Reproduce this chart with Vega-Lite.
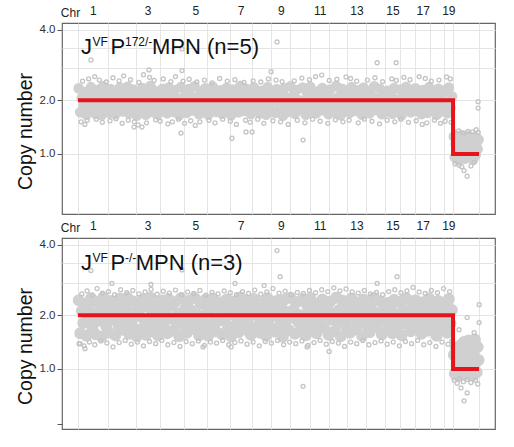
{
  "$schema": "https://vega.github.io/schema/vega-lite/v6.json",
  "padding": {"left": 14, "top": 3, "right": 18, "bottom": 17},
  "config": {
    "view": {"stroke": "#666666", "strokeWidth": 1.2},
    "font": "Liberation Sans",
    "axis": {"gridColor": "#e4e4e4", "gridWidth": 1}
  },
  "datasets": {
    "core1": [
      {"pos":5,"cn":2.28},{"pos":15,"cn":1.74},{"pos":25,"cn":2.05},{"pos":35,"cn":1.86},{"pos":45,"cn":2.19},{"pos":55,"cn":1.69},{"pos":65,"cn":2.12},{"pos":75,"cn":1.93},{"pos":85,"cn":2.31},{"pos":95,"cn":1.79},
      {"pos":105,"cn":2.02},{"pos":115,"cn":1.71},{"pos":125,"cn":2.24},{"pos":135,"cn":1.88},{"pos":145,"cn":2.09},{"pos":155,"cn":1.68},{"pos":165,"cn":2.33},{"pos":175,"cn":1.97},{"pos":185,"cn":1.81},{"pos":195,"cn":2.16},
      {"pos":205,"cn":1.73},{"pos":215,"cn":2.26},{"pos":225,"cn":1.91},{"pos":235,"cn":2.07},{"pos":245,"cn":1.70},{"pos":255,"cn":2.21},{"pos":265,"cn":1.84},{"pos":275,"cn":2.30},{"pos":285,"cn":1.99},{"pos":295,"cn":1.76},
      {"pos":305,"cn":2.14},{"pos":315,"cn":1.89},{"pos":325,"cn":2.32},{"pos":335,"cn":1.72},{"pos":345,"cn":2.03},{"pos":355,"cn":1.83},{"pos":365,"cn":2.25},{"pos":375,"cn":1.95},{"pos":385,"cn":1.67},{"pos":395,"cn":2.18},
      {"pos":405,"cn":2.08},{"pos":415,"cn":1.77},{"pos":425,"cn":2.29},{"pos":435,"cn":1.90},{"pos":445,"cn":1.69},{"pos":455,"cn":2.15},{"pos":465,"cn":1.85},{"pos":475,"cn":2.34},{"pos":485,"cn":2.01},{"pos":495,"cn":1.74},
      {"pos":505,"cn":2.22},{"pos":515,"cn":1.87},{"pos":525,"cn":1.70},{"pos":535,"cn":2.11},{"pos":545,"cn":1.96},{"pos":555,"cn":2.27},{"pos":565,"cn":1.80},{"pos":575,"cn":2.06},{"pos":585,"cn":1.72},{"pos":595,"cn":2.30},
      {"pos":605,"cn":1.92},{"pos":615,"cn":2.17},{"pos":625,"cn":1.75},{"pos":635,"cn":2.24},{"pos":645,"cn":1.88},{"pos":655,"cn":2.04},{"pos":665,"cn":1.68},{"pos":675,"cn":2.31},{"pos":685,"cn":1.98},{"pos":695,"cn":1.82},
      {"pos":705,"cn":2.13},{"pos":715,"cn":1.73},{"pos":725,"cn":2.26},{"pos":735,"cn":1.94},{"pos":745,"cn":2.09},{"pos":755,"cn":1.78},{"pos":765,"cn":2.33},{"pos":775,"cn":1.86},{"pos":785,"cn":2.00},{"pos":795,"cn":1.70},
      {"pos":805,"cn":2.20},{"pos":815,"cn":1.90},{"pos":825,"cn":1.76},{"pos":835,"cn":2.28},{"pos":845,"cn":2.03},{"pos":855,"cn":1.69},{"pos":865,"cn":2.15},{"pos":875,"cn":1.84},{"pos":885,"cn":2.32},{"pos":895,"cn":1.97},
      {"pos":905,"cn":1.75},{"pos":915,"cn":2.10},{"pos":925,"cn":1.89},{"pos":935,"cn":2.23},{"pos":945,"cn":1.71},{"pos":955,"cn":2.06},{"pos":965,"cn":1.93},{"pos":975,"cn":2.29},{"pos":985,"cn":1.80},{"pos":995,"cn":2.14},
      {"pos":1005,"cn":1.68},{"pos":1015,"cn":2.25},{"pos":1025,"cn":1.99},{"pos":1035,"cn":1.83},{"pos":1045,"cn":2.18},{"pos":1055,"cn":1.74},{"pos":1065,"cn":2.34},{"pos":1075,"cn":1.91},{"pos":1085,"cn":2.07},{"pos":1095,"cn":1.77},
      {"pos":1105,"cn":2.27},{"pos":1115,"cn":1.87},{"pos":1125,"cn":2.12},{"pos":1135,"cn":1.70},{"pos":1145,"cn":2.01},{"pos":1155,"cn":2.30},{"pos":1165,"cn":1.79},{"pos":1175,"cn":2.16},{"pos":1185,"cn":1.95},{"pos":1195,"cn":1.72},
      {"pos":1205,"cn":2.22},{"pos":1215,"cn":1.85},{"pos":1225,"cn":2.08},{"pos":1235,"cn":1.69},{"pos":1245,"cn":2.31},{"pos":1255,"cn":1.92},{"pos":1265,"cn":1.78},{"pos":1275,"cn":2.19},{"pos":1285,"cn":2.04},{"pos":1295,"cn":1.73},
      {"pos":1305,"cn":2.26},{"pos":1315,"cn":1.96},{"pos":1325,"cn":1.82},{"pos":1335,"cn":2.13},{"pos":1345,"cn":1.67},{"pos":1355,"cn":2.28},{"pos":1365,"cn":1.89},{"pos":1375,"cn":2.05},{"pos":1385,"cn":1.75},{"pos":1395,"cn":2.33},
      {"pos":1405,"cn":1.94},{"pos":1415,"cn":2.11},{"pos":1425,"cn":1.71},{"pos":1435,"cn":2.24},{"pos":1445,"cn":1.86},{"pos":1455,"cn":2.00},{"pos":1465,"cn":1.80},{"pos":1475,"cn":2.30},{"pos":1485,"cn":1.97},{"pos":1495,"cn":1.69},
      {"pos":1505,"cn":2.17},{"pos":1515,"cn":1.88},{"pos":1525,"cn":2.32},{"pos":1535,"cn":1.76},{"pos":1545,"cn":2.09},{"pos":1555,"cn":1.93},{"pos":1565,"cn":1.72},{"pos":1575,"cn":2.21},{"pos":1585,"cn":1.84},{"pos":1595,"cn":2.06},
      {"pos":1605,"cn":2.29},{"pos":1615,"cn":1.78},{"pos":1625,"cn":1.98},{"pos":1635,"cn":2.14},{"pos":1645,"cn":1.70},{"pos":1655,"cn":2.25},{"pos":1665,"cn":1.90},{"pos":1675,"cn":2.03},{"pos":1685,"cn":1.74},{"pos":1695,"cn":2.34},
      {"pos":1705,"cn":1.87},{"pos":1715,"cn":2.10},{"pos":1725,"cn":1.68},{"pos":1735,"cn":2.27},{"pos":1745,"cn":1.95},{"pos":1755,"cn":1.81},{"pos":1765,"cn":2.18},{"pos":1775,"cn":2.02},{"pos":1785,"cn":1.73},{"pos":1795,"cn":2.31},
      {"pos":1805,"cn":1.91},{"pos":1815,"cn":2.15},{"pos":1825,"cn":1.77},{"pos":1835,"cn":2.23},{"pos":1845,"cn":1.85},{"pos":1855,"cn":2.07},{"pos":1865,"cn":1.69},{"pos":1875,"cn":2.30},{"pos":1885,"cn":1.99},{"pos":1895,"cn":1.83},
      {"pos":1905,"cn":2.20},{"pos":1915,"cn":1.72},{"pos":1925,"cn":2.12},{"pos":1935,"cn":1.94},{"pos":1945,"cn":2.33},{"pos":1955,"cn":1.79},{"pos":1965,"cn":2.04},{"pos":1975,"cn":1.88},{"pos":1985,"cn":2.26},{"pos":1995,"cn":1.70},
      {"pos":2005,"cn":2.08},{"pos":2015,"cn":1.97},{"pos":2025,"cn":1.75},{"pos":2035,"cn":2.22},{"pos":2045,"cn":1.86},{"pos":2055,"cn":2.14},{"pos":2065,"cn":1.71},{"pos":2075,"cn":2.29},{"pos":2085,"cn":1.92},{"pos":2095,"cn":2.01},
      {"pos":2105,"cn":1.80},{"pos":2115,"cn":2.25},{"pos":2125,"cn":1.68},{"pos":2135,"cn":2.10},{"pos":2145,"cn":1.96},{"pos":2155,"cn":2.32},{"pos":2165,"cn":1.83},{"pos":2175,"cn":2.05},{"pos":2185,"cn":1.74},{"pos":2195,"cn":2.19},
      {"pos":2205,"cn":1.90},{"pos":2215,"cn":2.28},{"pos":2225,"cn":1.77},{"pos":2235,"cn":2.13},{"pos":2245,"cn":1.99},{"pos":2255,"cn":1.70},{"pos":2265,"cn":2.24},{"pos":2275,"cn":1.87},{"pos":2285,"cn":2.07},{"pos":2295,"cn":1.73},
      {"pos":2305,"cn":2.31},{"pos":2315,"cn":1.93},{"pos":2325,"cn":2.16},{"pos":2335,"cn":1.81},{"pos":2345,"cn":2.02},{"pos":2355,"cn":1.69},{"pos":2365,"cn":2.27},{"pos":2375,"cn":1.89},{"pos":2385,"cn":2.11},{"pos":2395,"cn":1.76},
      {"pos":2405,"cn":2.23},{"pos":2415,"cn":1.95},{"pos":2425,"cn":1.72},{"pos":2435,"cn":2.30},{"pos":2445,"cn":1.84},{"pos":2455,"cn":2.09},
      {"pos":2468,"cn":1.28},{"pos":2474,"cn":0.95},{"pos":2480,"cn":1.15},{"pos":2486,"cn":1.02},{"pos":2492,"cn":1.24},{"pos":2498,"cn":0.91},{"pos":2504,"cn":1.19},{"pos":2510,"cn":1.06},{"pos":2516,"cn":1.30},{"pos":2522,"cn":0.98},
      {"pos":2528,"cn":1.12},{"pos":2534,"cn":1.26},{"pos":2540,"cn":0.93},{"pos":2546,"cn":1.09},{"pos":2552,"cn":1.21},{"pos":2558,"cn":1.00},{"pos":2564,"cn":1.29},{"pos":2570,"cn":0.96},{"pos":2576,"cn":1.16},{"pos":2582,"cn":1.04},
      {"pos":2588,"cn":1.25},{"pos":2594,"cn":0.92},{"pos":2600,"cn":1.13},{"pos":2606,"cn":1.27},{"pos":2612,"cn":0.99},{"pos":2618,"cn":1.18},{"pos":2624,"cn":1.07},{"pos":2630,"cn":1.23}
    ],
    "fringe1": [
      {"pos":30,"cn":2.46},{"pos":70,"cn":2.52},{"pos":110,"cn":2.58},{"pos":140,"cn":2.49},{"pos":185,"cn":2.44},{"pos":230,"cn":2.55},{"pos":270,"cn":2.47},{"pos":300,"cn":2.60},{"pos":345,"cn":2.50},{"pos":400,"cn":2.43},
      {"pos":430,"cn":2.63},{"pos":470,"cn":2.56},{"pos":500,"cn":2.48},{"pos":560,"cn":2.52},{"pos":610,"cn":2.45},{"pos":640,"cn":2.58},{"pos":690,"cn":2.46},{"pos":730,"cn":2.51},{"pos":780,"cn":2.44},{"pos":830,"cn":2.49},
      {"pos":880,"cn":2.42},{"pos":930,"cn":2.53},{"pos":980,"cn":2.46},{"pos":1030,"cn":2.50},{"pos":1090,"cn":2.43},{"pos":1150,"cn":2.47},{"pos":1200,"cn":2.44},{"pos":1250,"cn":2.52},{"pos":1300,"cn":2.49},{"pos":1340,"cn":2.45},
      {"pos":1420,"cn":2.47},{"pos":1470,"cn":2.54},{"pos":1520,"cn":2.50},{"pos":1560,"cn":2.58},{"pos":1600,"cn":2.62},{"pos":1650,"cn":2.48},{"pos":1700,"cn":2.51},{"pos":1760,"cn":2.57},{"pos":1790,"cn":2.53},{"pos":1830,"cn":2.46},
      {"pos":1900,"cn":2.49},{"pos":1950,"cn":2.55},{"pos":2000,"cn":2.45},{"pos":2060,"cn":2.52},{"pos":2090,"cn":2.48},{"pos":2140,"cn":2.56},{"pos":2180,"cn":2.50},{"pos":2240,"cn":2.58},{"pos":2280,"cn":2.53},{"pos":2320,"cn":2.46},
      {"pos":2370,"cn":2.49},{"pos":2420,"cn":2.57},{"pos":2445,"cn":2.52},
      {"pos":20,"cn":1.55},{"pos":45,"cn":1.50},{"pos":60,"cn":1.58},{"pos":120,"cn":1.60},{"pos":160,"cn":1.54},{"pos":210,"cn":1.57},{"pos":250,"cn":1.61},{"pos":290,"cn":1.52},{"pos":330,"cn":1.58},{"pos":370,"cn":1.55},
      {"pos":395,"cn":1.49},{"pos":420,"cn":1.45},{"pos":450,"cn":1.53},{"pos":510,"cn":1.59},{"pos":540,"cn":1.56},{"pos":590,"cn":1.51},{"pos":620,"cn":1.55},{"pos":660,"cn":1.60},{"pos":700,"cn":1.52},{"pos":740,"cn":1.57},
      {"pos":770,"cn":1.48},{"pos":800,"cn":1.55},{"pos":860,"cn":1.58},{"pos":900,"cn":1.53},{"pos":950,"cn":1.60},{"pos":1000,"cn":1.56},{"pos":1040,"cn":1.50},{"pos":1100,"cn":1.58},{"pos":1130,"cn":1.54},{"pos":1180,"cn":1.60},
      {"pos":1220,"cn":1.52},{"pos":1280,"cn":1.57},{"pos":1330,"cn":1.55},{"pos":1380,"cn":1.50},{"pos":1440,"cn":1.58},{"pos":1490,"cn":1.53},{"pos":1540,"cn":1.60},{"pos":1590,"cn":1.56},{"pos":1640,"cn":1.52},{"pos":1690,"cn":1.59},
      {"pos":1740,"cn":1.55},{"pos":1780,"cn":1.58},{"pos":1840,"cn":1.53},{"pos":1880,"cn":1.60},{"pos":1930,"cn":1.56},{"pos":1980,"cn":1.51},{"pos":2030,"cn":1.58},{"pos":2080,"cn":1.55},{"pos":2120,"cn":1.60},{"pos":2170,"cn":1.54},
      {"pos":2220,"cn":1.57},{"pos":2260,"cn":1.50},{"pos":2290,"cn":1.53},{"pos":2340,"cn":1.58},{"pos":2380,"cn":1.52},{"pos":2410,"cn":1.56},{"pos":2450,"cn":1.54},
      {"pos":85,"cn":3.04},{"pos":683,"cn":3.37},{"pos":466,"cn":2.76},{"pos":683,"cn":2.74},{"pos":1307,"cn":3.59},{"pos":1268,"cn":2.71},{"pos":1964,"cn":2.96},{"pos":2089,"cn":2.96},
      {"pos":676,"cn":1.34},{"pos":1011,"cn":1.25},{"pos":368,"cn":1.45},{"pos":1103,"cn":1.36},{"pos":1143,"cn":1.36},{"pos":1478,"cn":1.22},
      {"pos":2470,"cn":1.36},{"pos":2500,"cn":1.38},{"pos":2530,"cn":1.34},{"pos":2560,"cn":1.37},{"pos":2590,"cn":1.36},{"pos":2615,"cn":1.40},{"pos":2628,"cn":1.35},
      {"pos":2475,"cn":0.86},{"pos":2502,"cn":0.84},{"pos":2520,"cn":0.82},{"pos":2535,"cn":0.77},{"pos":2555,"cn":0.70},{"pos":2580,"cn":0.83},{"pos":2601,"cn":0.88},
      {"pos":2627,"cn":1.97},{"pos":2627,"cn":1.83}
    ],
    "core2": [
      {"pos":5,"cn":2.36},{"pos":15,"cn":1.62},{"pos":25,"cn":2.10},{"pos":35,"cn":1.83},{"pos":45,"cn":2.27},{"pos":55,"cn":1.57},{"pos":65,"cn":2.18},{"pos":75,"cn":1.95},{"pos":85,"cn":2.41},{"pos":95,"cn":1.72},
      {"pos":105,"cn":2.04},{"pos":115,"cn":1.60},{"pos":125,"cn":2.32},{"pos":135,"cn":1.88},{"pos":145,"cn":2.13},{"pos":155,"cn":1.55},{"pos":165,"cn":2.43},{"pos":175,"cn":1.99},{"pos":185,"cn":1.76},{"pos":195,"cn":2.22},
      {"pos":205,"cn":1.64},{"pos":215,"cn":2.34},{"pos":225,"cn":1.92},{"pos":235,"cn":2.09},{"pos":245,"cn":1.58},{"pos":255,"cn":2.29},{"pos":265,"cn":1.80},{"pos":275,"cn":2.40},{"pos":285,"cn":2.01},{"pos":295,"cn":1.69},
      {"pos":305,"cn":2.20},{"pos":315,"cn":1.86},{"pos":325,"cn":2.42},{"pos":335,"cn":1.61},{"pos":345,"cn":2.06},{"pos":355,"cn":1.78},{"pos":365,"cn":2.33},{"pos":375,"cn":1.97},{"pos":385,"cn":1.56},{"pos":395,"cn":2.25},
      {"pos":405,"cn":2.12},{"pos":415,"cn":1.70},{"pos":425,"cn":2.38},{"pos":435,"cn":1.90},{"pos":445,"cn":1.59},{"pos":455,"cn":2.21},{"pos":465,"cn":1.82},{"pos":475,"cn":2.43},{"pos":485,"cn":2.03},{"pos":495,"cn":1.65},
      {"pos":505,"cn":2.30},{"pos":515,"cn":1.85},{"pos":525,"cn":1.58},{"pos":535,"cn":2.15},{"pos":545,"cn":1.96},{"pos":555,"cn":2.35},{"pos":565,"cn":1.74},{"pos":575,"cn":2.08},{"pos":585,"cn":1.62},{"pos":595,"cn":2.39},
      {"pos":605,"cn":1.93},{"pos":615,"cn":2.24},{"pos":625,"cn":1.67},{"pos":635,"cn":2.31},{"pos":645,"cn":1.87},{"pos":655,"cn":2.05},{"pos":665,"cn":1.56},{"pos":675,"cn":2.41},{"pos":685,"cn":2.00},{"pos":695,"cn":1.77},
      {"pos":705,"cn":2.17},{"pos":715,"cn":1.63},{"pos":725,"cn":2.34},{"pos":735,"cn":1.94},{"pos":745,"cn":2.11},{"pos":755,"cn":1.71},{"pos":765,"cn":2.42},{"pos":775,"cn":1.84},{"pos":785,"cn":2.02},{"pos":795,"cn":1.58},
      {"pos":805,"cn":2.28},{"pos":815,"cn":1.89},{"pos":825,"cn":1.68},{"pos":835,"cn":2.37},{"pos":845,"cn":2.06},{"pos":855,"cn":1.57},{"pos":865,"cn":2.19},{"pos":875,"cn":1.81},{"pos":885,"cn":2.40},{"pos":895,"cn":1.98},
      {"pos":905,"cn":1.66},{"pos":915,"cn":2.14},{"pos":925,"cn":1.88},{"pos":935,"cn":2.30},{"pos":945,"cn":1.60},{"pos":955,"cn":2.08},{"pos":965,"cn":1.94},{"pos":975,"cn":2.38},{"pos":985,"cn":1.75},{"pos":995,"cn":2.20},
      {"pos":1005,"cn":1.56},{"pos":1015,"cn":2.33},{"pos":1025,"cn":2.01},{"pos":1035,"cn":1.79},{"pos":1045,"cn":2.24},{"pos":1055,"cn":1.64},{"pos":1065,"cn":2.43},{"pos":1075,"cn":1.91},{"pos":1085,"cn":2.10},{"pos":1095,"cn":1.70},
      {"pos":1105,"cn":2.36},{"pos":1115,"cn":1.86},{"pos":1125,"cn":2.16},{"pos":1135,"cn":1.59},{"pos":1145,"cn":2.03},{"pos":1155,"cn":2.39},{"pos":1165,"cn":1.73},{"pos":1175,"cn":2.21},{"pos":1185,"cn":1.96},{"pos":1195,"cn":1.63},
      {"pos":1205,"cn":2.29},{"pos":1215,"cn":1.83},{"pos":1225,"cn":2.11},{"pos":1235,"cn":1.57},{"pos":1245,"cn":2.41},{"pos":1255,"cn":1.92},{"pos":1265,"cn":1.72},{"pos":1275,"cn":2.26},{"pos":1285,"cn":2.05},{"pos":1295,"cn":1.65},
      {"pos":1305,"cn":2.34},{"pos":1315,"cn":1.97},{"pos":1325,"cn":1.78},{"pos":1335,"cn":2.18},{"pos":1345,"cn":1.55},{"pos":1355,"cn":2.37},{"pos":1365,"cn":1.88},{"pos":1375,"cn":2.07},{"pos":1385,"cn":1.68},{"pos":1395,"cn":2.42},
      {"pos":1405,"cn":1.95},{"pos":1415,"cn":2.13},{"pos":1425,"cn":1.61},{"pos":1435,"cn":2.31},{"pos":1445,"cn":1.85},{"pos":1455,"cn":2.01},{"pos":1465,"cn":1.74},{"pos":1475,"cn":2.39},{"pos":1485,"cn":1.99},{"pos":1495,"cn":1.58},
      {"pos":1505,"cn":2.23},{"pos":1515,"cn":1.87},{"pos":1525,"cn":2.41},{"pos":1535,"cn":1.69},{"pos":1545,"cn":2.10},{"pos":1555,"cn":1.93},{"pos":1565,"cn":1.62},{"pos":1575,"cn":2.28},{"pos":1585,"cn":1.81},{"pos":1595,"cn":2.06},
      {"pos":1605,"cn":2.38},{"pos":1615,"cn":1.73},{"pos":1625,"cn":1.99},{"pos":1635,"cn":2.19},{"pos":1645,"cn":1.59},{"pos":1655,"cn":2.32},{"pos":1665,"cn":1.90},{"pos":1675,"cn":2.04},{"pos":1685,"cn":1.66},{"pos":1695,"cn":2.43},
      {"pos":1705,"cn":1.86},{"pos":1715,"cn":2.12},{"pos":1725,"cn":1.56},{"pos":1735,"cn":2.35},{"pos":1745,"cn":1.96},{"pos":1755,"cn":1.77},{"pos":1765,"cn":2.25},{"pos":1775,"cn":2.02},{"pos":1785,"cn":1.63},{"pos":1795,"cn":2.40},
      {"pos":1805,"cn":1.91},{"pos":1815,"cn":2.20},{"pos":1825,"cn":1.70},{"pos":1835,"cn":2.30},{"pos":1845,"cn":1.83},{"pos":1855,"cn":2.09},{"pos":1865,"cn":1.57},{"pos":1875,"cn":2.38},{"pos":1885,"cn":2.00},{"pos":1895,"cn":1.79},
      {"pos":1905,"cn":2.27},{"pos":1915,"cn":1.64},{"pos":1925,"cn":2.15},{"pos":1935,"cn":1.94},{"pos":1945,"cn":2.42},{"pos":1955,"cn":1.75},{"pos":1965,"cn":2.05},{"pos":1975,"cn":1.87},{"pos":1985,"cn":2.33},{"pos":1995,"cn":1.60},
      {"pos":2005,"cn":2.11},{"pos":2015,"cn":1.98},{"pos":2025,"cn":1.68},{"pos":2035,"cn":2.29},{"pos":2045,"cn":1.84},{"pos":2055,"cn":2.18},{"pos":2065,"cn":1.62},{"pos":2075,"cn":2.37},{"pos":2085,"cn":1.92},{"pos":2095,"cn":2.02},
      {"pos":2105,"cn":1.76},{"pos":2115,"cn":2.32},{"pos":2125,"cn":1.58},{"pos":2135,"cn":2.13},{"pos":2145,"cn":1.97},{"pos":2155,"cn":2.41},{"pos":2165,"cn":1.80},{"pos":2175,"cn":2.07},{"pos":2185,"cn":1.66},{"pos":2195,"cn":2.24},
      {"pos":2205,"cn":1.90},{"pos":2215,"cn":2.36},{"pos":2225,"cn":1.71},{"pos":2235,"cn":2.17},{"pos":2245,"cn":2.00},{"pos":2255,"cn":1.61},{"pos":2265,"cn":2.31},{"pos":2275,"cn":1.86},{"pos":2285,"cn":2.09},{"pos":2295,"cn":1.67},
      {"pos":2305,"cn":2.40},{"pos":2315,"cn":1.94},{"pos":2325,"cn":2.21},{"pos":2335,"cn":1.78},{"pos":2345,"cn":2.03},{"pos":2355,"cn":1.57},{"pos":2365,"cn":2.34},{"pos":2375,"cn":1.88},{"pos":2385,"cn":2.14},{"pos":2395,"cn":1.72},
      {"pos":2405,"cn":2.30},{"pos":2415,"cn":1.96},{"pos":2425,"cn":1.63},{"pos":2435,"cn":2.39},{"pos":2445,"cn":1.82},{"pos":2455,"cn":2.12},
      {"pos":2468,"cn":1.22},{"pos":2474,"cn":0.93},{"pos":2480,"cn":1.35},{"pos":2486,"cn":1.05},{"pos":2492,"cn":1.15},{"pos":2498,"cn":0.90},{"pos":2504,"cn":1.28},{"pos":2510,"cn":1.00},{"pos":2516,"cn":1.40},{"pos":2522,"cn":0.96},
      {"pos":2528,"cn":1.18},{"pos":2534,"cn":1.45},{"pos":2540,"cn":1.08},{"pos":2546,"cn":0.92},{"pos":2552,"cn":1.31},{"pos":2558,"cn":1.12},{"pos":2564,"cn":1.48},{"pos":2570,"cn":0.97},{"pos":2576,"cn":1.25},{"pos":2582,"cn":1.03},
      {"pos":2588,"cn":1.42},{"pos":2594,"cn":0.91},{"pos":2600,"cn":1.20},{"pos":2606,"cn":1.50},{"pos":2612,"cn":1.10},{"pos":2618,"cn":0.95},{"pos":2624,"cn":1.36},{"pos":2630,"cn":1.14}
    ],
    "fringe2": [
      {"pos":25,"cn":2.52},{"pos":60,"cn":2.60},{"pos":95,"cn":2.49},{"pos":125,"cn":2.66},{"pos":160,"cn":2.54},{"pos":200,"cn":2.58},{"pos":240,"cn":2.50},{"pos":280,"cn":2.63},{"pos":320,"cn":2.55},{"pos":360,"cn":2.61},
      {"pos":400,"cn":2.52},{"pos":440,"cn":2.57},{"pos":480,"cn":2.64},{"pos":520,"cn":2.51},{"pos":560,"cn":2.59},{"pos":600,"cn":2.54},{"pos":640,"cn":2.62},{"pos":680,"cn":2.50},{"pos":720,"cn":2.57},{"pos":760,"cn":2.53},
      {"pos":800,"cn":2.61},{"pos":840,"cn":2.49},{"pos":880,"cn":2.56},{"pos":920,"cn":2.52},{"pos":960,"cn":2.60},{"pos":1000,"cn":2.55},{"pos":1040,"cn":2.50},{"pos":1080,"cn":2.58},{"pos":1120,"cn":2.53},{"pos":1160,"cn":2.62},
      {"pos":1200,"cn":2.51},{"pos":1240,"cn":2.57},{"pos":1280,"cn":2.66},{"pos":1320,"cn":2.54},{"pos":1360,"cn":2.59},{"pos":1400,"cn":2.50},{"pos":1440,"cn":2.56},{"pos":1480,"cn":2.53},{"pos":1520,"cn":2.61},{"pos":1560,"cn":2.55},
      {"pos":1600,"cn":2.63},{"pos":1640,"cn":2.58},{"pos":1680,"cn":2.68},{"pos":1720,"cn":2.60},{"pos":1760,"cn":2.65},{"pos":1800,"cn":2.57},{"pos":1840,"cn":2.54},{"pos":1880,"cn":2.61},{"pos":1920,"cn":2.52},{"pos":1960,"cn":2.56},
      {"pos":2000,"cn":2.50},{"pos":2040,"cn":2.58},{"pos":2080,"cn":2.63},{"pos":2120,"cn":2.55},{"pos":2160,"cn":2.60},{"pos":2200,"cn":2.69},{"pos":2240,"cn":2.57},{"pos":2280,"cn":2.53},{"pos":2320,"cn":2.61},{"pos":2360,"cn":2.55},
      {"pos":2400,"cn":2.66},{"pos":2440,"cn":2.58},
      {"pos":15,"cn":1.42},{"pos":40,"cn":1.38},{"pos":75,"cn":1.45},{"pos":110,"cn":1.40},{"pos":150,"cn":1.47},{"pos":190,"cn":1.43},{"pos":230,"cn":1.36},{"pos":270,"cn":1.44},{"pos":310,"cn":1.48},{"pos":350,"cn":1.41},
      {"pos":390,"cn":1.45},{"pos":430,"cn":1.38},{"pos":470,"cn":1.46},{"pos":510,"cn":1.42},{"pos":550,"cn":1.48},{"pos":590,"cn":1.40},{"pos":630,"cn":1.44},{"pos":670,"cn":1.37},{"pos":710,"cn":1.46},{"pos":750,"cn":1.42},
      {"pos":790,"cn":1.47},{"pos":830,"cn":1.39},{"pos":870,"cn":1.45},{"pos":910,"cn":1.43},{"pos":950,"cn":1.48},{"pos":990,"cn":1.40},{"pos":1030,"cn":1.44},{"pos":1070,"cn":1.47},{"pos":1110,"cn":1.41},{"pos":1150,"cn":1.45},
      {"pos":1190,"cn":1.38},{"pos":1230,"cn":1.46},{"pos":1270,"cn":1.43},{"pos":1310,"cn":1.48},{"pos":1350,"cn":1.40},{"pos":1390,"cn":1.45},{"pos":1430,"cn":1.42},{"pos":1470,"cn":1.47},{"pos":1510,"cn":1.39},{"pos":1550,"cn":1.44},
      {"pos":1590,"cn":1.48},{"pos":1630,"cn":1.41},{"pos":1670,"cn":1.46},{"pos":1710,"cn":1.43},{"pos":1750,"cn":1.37},{"pos":1790,"cn":1.45},{"pos":1830,"cn":1.42},{"pos":1870,"cn":1.48},{"pos":1910,"cn":1.40},{"pos":1950,"cn":1.44},
      {"pos":1990,"cn":1.47},{"pos":2030,"cn":1.41},{"pos":2070,"cn":1.45},{"pos":2110,"cn":1.38},{"pos":2150,"cn":1.46},{"pos":2190,"cn":1.42},{"pos":2230,"cn":1.48},{"pos":2270,"cn":1.40},{"pos":2310,"cn":1.44},{"pos":2350,"cn":1.37},
      {"pos":2390,"cn":1.45},{"pos":2430,"cn":1.41},{"pos":2455,"cn":1.47},
      {"pos":85,"cn":3.17},{"pos":683,"cn":3.19},{"pos":223,"cn":2.80},{"pos":479,"cn":2.77},{"pos":1031,"cn":2.80},{"pos":1307,"cn":3.80},{"pos":1327,"cn":2.99},{"pos":2095,"cn":2.99},{"pos":1964,"cn":2.80},{"pos":1222,"cn":2.74},
      {"pos":7,"cn":1.42},{"pos":46,"cn":1.33},{"pos":1478,"cn":0.76},{"pos":1649,"cn":1.28},{"pos":1504,"cn":1.36},{"pos":821,"cn":1.36},{"pos":1005,"cn":1.36},
      {"pos":2470,"cn":0.84},{"pos":2490,"cn":0.80},{"pos":2505,"cn":0.86},{"pos":2530,"cn":0.82},{"pos":2555,"cn":0.85},{"pos":2580,"cn":0.81},{"pos":2610,"cn":0.84},{"pos":2625,"cn":0.79},
      {"pos":2515,"cn":0.74},{"pos":2555,"cn":0.68},{"pos":2535,"cn":0.59},
      {"pos":2555,"cn":1.95},{"pos":2601,"cn":1.63},{"pos":2502,"cn":1.69},{"pos":2634,"cn":2.25},{"pos":2634,"cn":1.84}
    ],
    "cnseg": [
      {"pos":0,"cn":2,"step":1},{"pos":2462.5,"cn":2,"step":2},{"pos":2462.5,"cn":1,"step":3},{"pos":2633.5,"cn":1,"step":4}
    ],
    "big1": [{"pos":19.7,"cn":3.22,"txt":"J"},{"pos":213.5,"cn":3.22,"txt":"P"},{"pos":486,"cn":3.22,"txt":"MPN (n=5)"}],
    "sup1": [{"pos":96,"cn":3.46,"txt":"VF"},{"pos":308.7,"cn":3.46,"txt":"172/-"}],
    "big2": [{"pos":19.7,"cn":3.2,"txt":"J"},{"pos":213.5,"cn":3.2,"txt":"P"},{"pos":379,"cn":3.2,"txt":"MPN (n=3)"}],
    "sup2": [{"pos":96,"cn":3.44,"txt":"VF"},{"pos":308.7,"cn":3.44,"txt":"-/-"}]
  },
  "spacing": 3,
  "vconcat": [
    {
      "width": 433, "height": 191,
      "encoding": {
        "x": {"field": "pos", "type": "quantitative",
          "scale": {"domain": [-105, 2738], "nice": false, "zero": false},
          "axis": {"orient": "top",
            "values": [0,195.5,377.6,537.6,694.1,845.9,995.6,1141,1270.4,1395,1525.7,1647.8,1767.9,1888.3,2013.2,2117.2,2215.4,2310.4,2401.1,2462.5,2633.5,97.75,457.6,770,1068.3,1332.7,1586.75,1828.1,2065.2,2262.9,2431.8],
            "labelExpr": "indexof([97.75,457.6,770,1068.3,1332.7,1586.75,1828.1,2065.2,2262.9,2431.8], datum.value) >= 0 ? '' + (2 * indexof([97.75,457.6,770,1068.3,1332.7,1586.75,1828.1,2065.2,2262.9,2431.8], datum.value) + 1) : ''",
            "gridOpacity": {"condition": {"test": "indexof([97.75,457.6,770,1068.3,1332.7,1586.75,1828.1,2065.2,2262.9,2431.8], datum.value) >= 0", "value": 0}, "value": 1},
            "grid": true, "ticks": false, "tickSize": 0, "domain": false,
            "labelFontSize": 12, "labelColor": "#222222", "labelPadding": 6,
            "labelOverlap": false, "labelBound": false, "labelFlush": false,
            "title": "Chr", "titleAngle": 0, "titleX": 8, "titleY": -7, "titleAlign": "center", "titleBaseline": "alphabetic",
            "titleFontSize": 12, "titleFontWeight": "normal", "titleColor": "#222222"}},
        "y": {"field": "cn", "type": "quantitative",
          "scale": {"type": "pow", "exponent": 0.4, "domain": [0.33, 4.23], "nice": false, "zero": false},
          "axis": {"values": [4, 3.4, 2.8, 2, 1],
            "labelExpr": "datum.value == 1 ? '1.0' : datum.value == 2 ? '2.0' : datum.value == 4 ? '4.0' : ''",
            "tickOpacity": {"condition": {"test": "datum.value == 2.8 || datum.value == 3.4", "value": 0}, "value": 1},
            "domain": false, "tickSize": 5, "tickColor": "#555555", "labelPadding": 2, "labelFontSize": 11.5, "labelColor": "#333333",
            "title": "Copy number", "titleFontSize": 19.5, "titleFontWeight": "normal", "titleColor": "#111111", "titlePadding": 4, "titleY": 108}}
      },
      "layer": [
        {"data": {"name": "core1"}, "mark": {"type": "circle", "size": 85, "filled": true, "fill": "#d0d0d0", "stroke": "#d0d0d0", "strokeWidth": 1.5, "opacity": 1}},
        {"data": {"name": "fringe1"}, "mark": {"type": "point", "shape": "circle", "size": 16, "filled": false, "stroke": "#c4c4c4", "strokeWidth": 1.3, "opacity": 1}},
        {"data": {"name": "cnseg"}, "mark": {"type": "line", "color": "#e8141c", "strokeWidth": 4, "strokeJoin": "miter", "strokeCap": "butt"}, "encoding": {"order": {"field": "step", "type": "quantitative"}}},
        {"data": {"name": "big1"}, "mark": {"type": "text", "align": "left", "baseline": "alphabetic", "fontSize": 22, "color": "#111111"}, "encoding": {"text": {"field": "txt"}}},
        {"data": {"name": "sup1"}, "mark": {"type": "text", "align": "left", "baseline": "alphabetic", "fontSize": 12, "color": "#111111"}, "encoding": {"text": {"field": "txt"}}}
      ]
    },
    {
      "width": 433, "height": 191,
      "encoding": {
        "x": {"field": "pos", "type": "quantitative",
          "scale": {"domain": [-105, 2738], "nice": false, "zero": false},
          "axis": {"orient": "top",
            "values": [0,195.5,377.6,537.6,694.1,845.9,995.6,1141,1270.4,1395,1525.7,1647.8,1767.9,1888.3,2013.2,2117.2,2215.4,2310.4,2401.1,2462.5,2633.5,97.75,457.6,770,1068.3,1332.7,1586.75,1828.1,2065.2,2262.9,2431.8],
            "labelExpr": "indexof([97.75,457.6,770,1068.3,1332.7,1586.75,1828.1,2065.2,2262.9,2431.8], datum.value) >= 0 ? '' + (2 * indexof([97.75,457.6,770,1068.3,1332.7,1586.75,1828.1,2065.2,2262.9,2431.8], datum.value) + 1) : ''",
            "gridOpacity": {"condition": {"test": "indexof([97.75,457.6,770,1068.3,1332.7,1586.75,1828.1,2065.2,2262.9,2431.8], datum.value) >= 0", "value": 0}, "value": 1},
            "grid": true, "ticks": false, "tickSize": 0, "domain": false,
            "labelFontSize": 12, "labelColor": "#222222", "labelPadding": 6,
            "labelOverlap": false, "labelBound": false, "labelFlush": false,
            "title": "Chr", "titleAngle": 0, "titleX": 8, "titleY": -7, "titleAlign": "center", "titleBaseline": "alphabetic",
            "titleFontSize": 12, "titleFontWeight": "normal", "titleColor": "#222222"}},
        "y": {"field": "cn", "type": "quantitative",
          "scale": {"type": "pow", "exponent": 0.4, "domain": [0.33, 4.23], "nice": false, "zero": false},
          "axis": {"values": [4, 3.4, 2.8, 2, 1, 0.37],
            "labelExpr": "datum.value == 1 ? '1.0' : datum.value == 2 ? '2.0' : datum.value == 4 ? '4.0' : ''",
            "tickOpacity": {"condition": {"test": "datum.value == 2.8 || datum.value == 3.4", "value": 0}, "value": 1},
            "gridOpacity": {"condition": {"test": "datum.value < 0.5", "value": 0}, "value": 1},
            "domain": false, "tickSize": 5, "tickColor": "#555555", "labelPadding": 2, "labelFontSize": 11.5, "labelColor": "#333333",
            "title": "Copy number", "titleFontSize": 19.5, "titleFontWeight": "normal", "titleColor": "#111111", "titlePadding": 4, "titleY": 108}}
      },
      "layer": [
        {"data": {"name": "core2"}, "mark": {"type": "circle", "size": 110, "filled": true, "fill": "#d0d0d0", "stroke": "#d0d0d0", "strokeWidth": 1.5, "opacity": 1}},
        {"data": {"name": "fringe2"}, "mark": {"type": "point", "shape": "circle", "size": 16, "filled": false, "stroke": "#c4c4c4", "strokeWidth": 1.3, "opacity": 1}},
        {"data": {"name": "cnseg"}, "mark": {"type": "line", "color": "#e8141c", "strokeWidth": 4, "strokeJoin": "miter", "strokeCap": "butt"}, "encoding": {"order": {"field": "step", "type": "quantitative"}}},
        {"data": {"name": "big2"}, "mark": {"type": "text", "align": "left", "baseline": "alphabetic", "fontSize": 22, "color": "#111111"}, "encoding": {"text": {"field": "txt"}}},
        {"data": {"name": "sup2"}, "mark": {"type": "text", "align": "left", "baseline": "alphabetic", "fontSize": 12, "color": "#111111"}, "encoding": {"text": {"field": "txt"}}}
      ]
    }
  ]
}
